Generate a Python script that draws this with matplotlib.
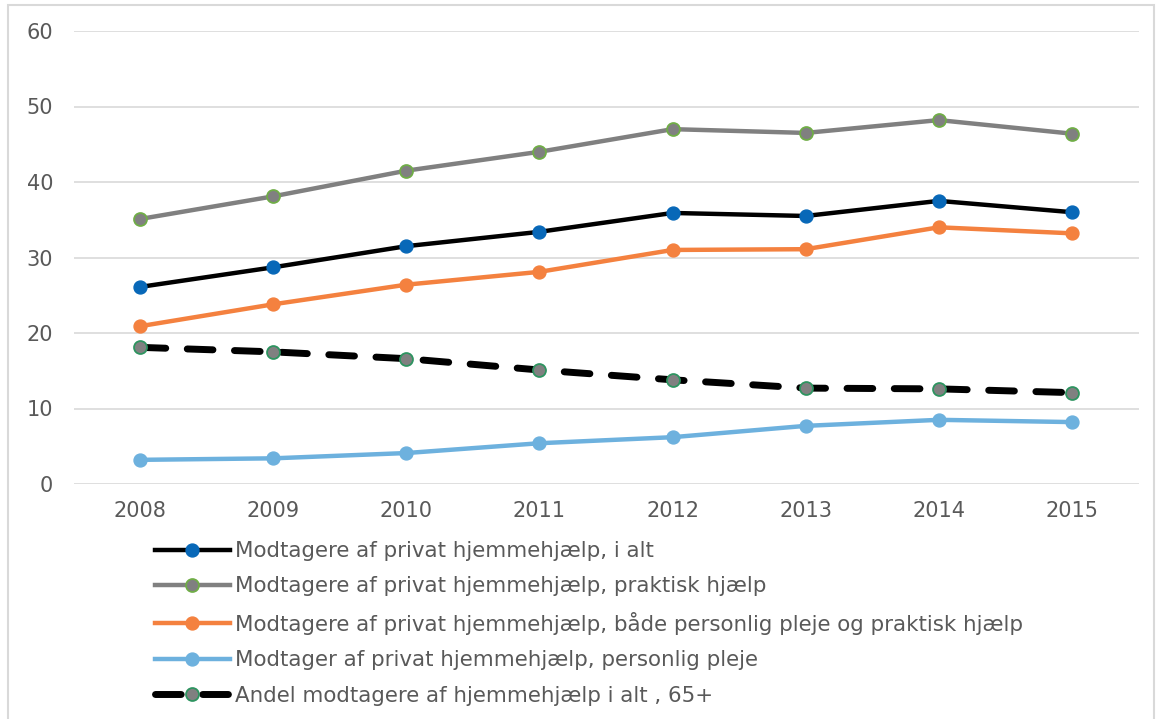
import matplotlib
matplotlib.use("Agg")
import matplotlib.pyplot as plt
from matplotlib.patches import Rectangle

years = [2008, 2009, 2010, 2011, 2012, 2013, 2014, 2015]
i_alt = [26.1, 28.7, 31.5, 33.4, 35.9, 35.5, 37.5, 36.0]
praktisk = [35.1, 38.1, 41.5, 44.0, 47.0, 46.5, 48.2, 46.4]
begge = [20.9, 23.8, 26.4, 28.1, 31.0, 31.1, 34.0, 33.2]
personlig = [3.2, 3.4, 4.1, 5.4, 6.2, 7.7, 8.5, 8.2]
andel_65 = [18.1, 17.5, 16.6, 15.1, 13.8, 12.7, 12.6, 12.1]

labels = [
    "Modtagere af privat hjemmehjælp, i alt",
    "Modtagere af privat hjemmehjælp, praktisk hjælp",
    "Modtagere af privat hjemmehjælp, både personlig pleje og praktisk hjælp",
    "Modtager af privat hjemmehjælp, personlig pleje",
    "Andel modtagere af hjemmehjælp i alt , 65+",
]
yticks = [0, 10, 20, 30, 40, 50, 60]

plt.rcParams['font.family'] = ['DejaVu Sans']
txt = "#595959"

fig = plt.figure(figsize=(11.63, 7.19), dpi=100)
ax = fig.add_axes([73.5/1163, 1-484/719, (1138.5-73.5)/1163, (484-31)/719])

fig.patches.append(Rectangle((8/1163, -0.01), (1154-8)/1163, 1-5/719+0.01,
                             transform=fig.transFigure, fill=False,
                             edgecolor="#d9d9d9", linewidth=1.5))

lw = 3.2
ms = 9.3
ax.plot(years, i_alt, color="black", lw=lw, marker="o", ms=ms,
        mfc="#0868B8", mec="#0868B8", label=labels[0], zorder=4)
ax.plot(years, praktisk, color="#808080", lw=lw, marker="o", ms=ms,
        mfc="#808080", mec="#70AD47", mew=1.3, label=labels[1], zorder=4)
ax.plot(years, begge, color="#F4813F", lw=lw, marker="o", ms=ms,
        mfc="#F4813F", mec="#F4813F", label=labels[2], zorder=4)
ax.plot(years, personlig, color="#6DB1DE", lw=lw, marker="o", ms=ms,
        mfc="#6DB1DE", mec="#6DB1DE", label=labels[3], zorder=4)
ax.plot(years, andel_65, color="black", lw=5.0, marker="o", ms=ms,
        mfc="#808080", mec="#2E9460", mew=1.3, label=labels[4], zorder=4,
        dashes=(3.7, 3.1), dash_capstyle="round")

ax.set_xlim(2007.5, 2015.5)
ax.set_ylim(0, 60)
ax.set_yticks(yticks)
ax.set_xticks(years)
ax.grid(axis="y", color="#d9d9d9", lw=1.2)
ax.set_axisbelow(True)
for s in ax.spines.values():
    s.set_visible(False)
ax.tick_params(axis="both", length=0, labelsize=15, colors=txt)
ax.tick_params(axis="y", pad=14.5)
ax.tick_params(axis="x", pad=12)

leg = ax.legend(loc="upper left", bbox_to_anchor=(155/1163, 1-541/719),
                bbox_transform=fig.transFigure, frameon=False, fontsize=15.4,
                handlelength=3.5, handletextpad=0.22, labelspacing=0.72,
                borderpad=0, borderaxespad=0)
for t in leg.get_texts():
    t.set_color(txt)

fig.savefig("out.png", dpi=100)
